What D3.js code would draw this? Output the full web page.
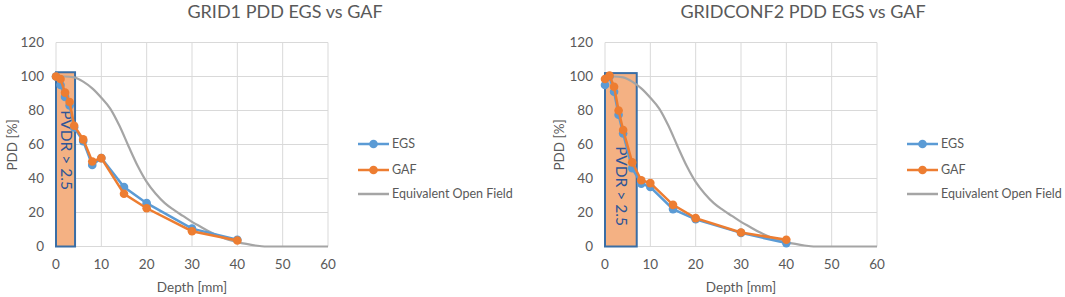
<!DOCTYPE html>
<html><head><meta charset="utf-8">
<script src="https://cdn.jsdelivr.net/npm/d3@7"></script>
<style>body{margin:0;background:#fff}svg{display:block}text{font-family:Lato,"Open Sans",sans-serif;fill:#595959}</style>
</head><body>
<svg id="c" width="1065" height="297"></svg>
<script>
const xTicks = [0,10,20,30,40,50,60];
const yTicks = [0,20,40,60,80,100,120];
const seriesNames = ["EGS","GAF","Equivalent Open Field"];

const depth1 = [0,1,2,3,4,6,8,10,15,20,30,40];
const egs1   = [100,95,88,83,70,62,48,52,35,25.5,10.5,4];
const gaf1   = [100,98.5,90.5,85,71,63,50,52,31,22.5,9,3.5];

const depth2 = [0,1,2,3,4,6,8,10,15,20,30,40];
const egs2   = [95,100,91,77.5,66.5,46,37,35,22,16,8,2];
const gaf2   = [98.5,100.5,94,80,68.5,49.5,39,37.3,24.5,16.7,8.2,4];

const openDepth = [0,2,4,6,8,10,12,14,16,18,20,22,24,26,28,30,32,34,36,38,40,42,44,46,48,50,52,54,56,58,60];
const openPDD   = [100,100,99.5,97,93,87.5,81,71,59,47.5,38,31,25.5,21.5,18,14.5,11.5,8.5,6,4,2.6,1.5,0.6,0,0,0,0,0,0,0,0];

const titles = ["GRID1 PDD EGS vs GAF","GRIDCONF2 PDD EGS vs GAF"];
const pvdrWidth = [4.2, 7];
const pvdrTop = [102.5, 102];

const svg = d3.select("#c");
const colors = {egs:"#5B9BD5", gaf:"#ED7D31", open:"#A5A5A5"};

function drawChart(cfg){
  const g = svg.append("g");
  const x = d3.scaleLinear().domain([0,60]).range([cfg.x0, cfg.x1]);
  const y = d3.scaleLinear().domain([0,120]).range([246.5, 42.5]);
  g.selectAll(".gy").data(yTicks).join("line")
    .attr("x1",x(0)).attr("x2",x(60)).attr("y1",d=>y(d)).attr("y2",d=>y(d))
    .attr("stroke","#d9d9d9").attr("stroke-width",1);
  g.selectAll(".gx").data(xTicks).join("line")
    .attr("y1",y(0)).attr("y2",y(120)).attr("x1",d=>x(d)).attr("x2",d=>x(d))
    .attr("stroke","#d9d9d9").attr("stroke-width",1);
  g.selectAll(".yl").data(yTicks).join("text")
    .attr("x",x(0)-12).attr("y",d=>y(d)).attr("dy","0.35em")
    .attr("text-anchor","end").attr("font-size",13.5).text(d=>d);
  g.selectAll(".xl").data(xTicks).join("text")
    .attr("x",d=>x(d)).attr("y",264.5).attr("dy","0.35em")
    .attr("text-anchor","middle").attr("font-size",13.5).text(d=>d);
  g.append("text").attr("x",(x(0)+x(60))/2).attr("y",287).attr("dy","0.35em")
    .attr("text-anchor","middle").attr("font-size",13.5).text("Depth [mm]");
  g.append("text").attr("transform",`translate(${cfg.yLabX},145) rotate(-90)`)
    .attr("dy","0.35em").attr("text-anchor","middle").attr("font-size",13.5).text("PDD [%]");
  g.append("text").attr("x",cfg.titleX).attr("y",12).attr("dy","0.35em")
    .attr("text-anchor","middle").attr("font-size",18).text(cfg.title);
  g.append("rect").attr("x",x(0)).attr("y",y(cfg.boxTop))
    .attr("width",x(cfg.boxW)-x(0)).attr("height",y(0)-y(cfg.boxTop))
    .attr("fill","#F4B183").attr("stroke","#3A6EA5").attr("stroke-width",2);
  g.append("text").attr("transform",`translate(${cfg.pvdrX},${cfg.pvdrY}) rotate(90)`)
    .attr("dy","0.35em").attr("text-anchor","middle").attr("font-size",15.5)
    .style("fill","#2F5597").text("PVDR > 2.5");
  const open = openDepth.map((d,i)=>[d,openPDD[i]]);
  g.append("path").datum(open).attr("fill","none").attr("stroke",colors.open).attr("stroke-width",2.2)
    .attr("d",d3.line().x(d=>x(d[0])).y(d=>y(d[1])).curve(d3.curveMonotoneX));
  const line = d3.line().x(d=>x(d[0])).y(d=>y(d[1]));
  [[cfg.egs,colors.egs],[cfg.gaf,colors.gaf]].forEach(([vals,col])=>{
    const pts = cfg.depth.map((d,i)=>[d,vals[i]]);
    g.append("path").datum(pts).attr("fill","none").attr("stroke",col).attr("stroke-width",2.5).attr("d",line);
    g.selectAll(null).data(pts).join("circle").attr("cx",d=>x(d[0])).attr("cy",d=>y(d[1]))
      .attr("r",4.3).attr("fill",col);
  });
  const lg = g.append("g");
  const ly = [144,170,194];
  const lc = [colors.egs,colors.gaf,colors.open];
  seriesNames.forEach((n,i)=>{
    lg.append("line").attr("x1",cfg.legX).attr("x2",cfg.legX+31).attr("y1",ly[i]).attr("y2",ly[i])
      .attr("stroke",lc[i]).attr("stroke-width",2.5);
    if(i<2) lg.append("circle").attr("cx",cfg.legX+15.5).attr("cy",ly[i]).attr("r",4.3).attr("fill",lc[i]);
    lg.append("text").attr("x",cfg.legX+34).attr("y",ly[i]).attr("dy","0.35em").attr("font-size",12.5).text(n);
  });
}

drawChart({x0:56,x1:328,yLabX:12,title:titles[0],titleX:285,boxW:pvdrWidth[0],boxTop:pvdrTop[0],
  pvdrX:66,pvdrY:150,depth:depth1,egs:egs1,gaf:gaf1,legX:358});
drawChart({x0:605,x1:877,yLabX:559,title:titles[1],titleX:803,boxW:pvdrWidth[1],boxTop:pvdrTop[1],
  pvdrX:621,pvdrY:186,depth:depth2,egs:egs2,gaf:gaf2,legX:907});
</script>
</body></html>
